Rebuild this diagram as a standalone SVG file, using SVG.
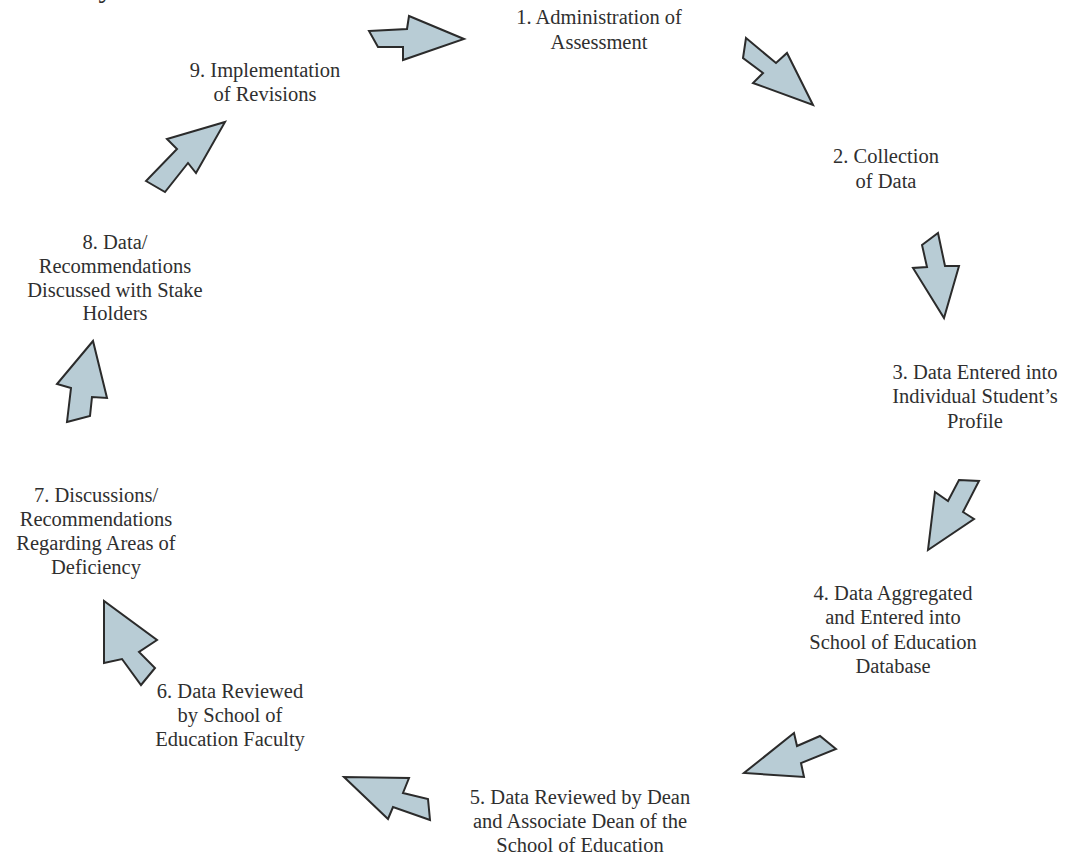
<svg xmlns="http://www.w3.org/2000/svg" width="1069" height="861" viewBox="0 0 1069 861">
<style>
.bg{fill:#ffffff}
.lbl{font-family:"Liberation Serif","Times New Roman",serif;font-size:20.5px;fill:#2f2f2f;text-anchor:middle}
.arr{fill:#b8ccd5;stroke:#2b2b2b;stroke-width:2;stroke-linejoin:miter}
</style>
<rect class="bg" x="0" y="0" width="1069" height="861"/>
<text class="lbl" x="106" y="-3" style="font-size:30px">y</text>
<g id="node1"><text class="lbl" x="599" y="24">1. Administration of</text><text class="lbl" x="599" y="49">Assessment</text></g>
<g id="node2"><text class="lbl" x="886" y="163">2. Collection</text><text class="lbl" x="886" y="188">of Data</text></g>
<g id="node3"><text class="lbl" x="975" y="379">3. Data Entered into</text><text class="lbl" x="975" y="403">Individual Student’s</text><text class="lbl" x="975" y="428">Profile</text></g>
<g id="node4"><text class="lbl" x="893" y="600">4. Data Aggregated</text><text class="lbl" x="893" y="624">and Entered into</text><text class="lbl" x="893" y="649">School of Education</text><text class="lbl" x="893" y="673">Database</text></g>
<g id="node5"><text class="lbl" x="580" y="804">5. Data Reviewed by Dean</text><text class="lbl" x="580" y="828">and Associate Dean of the</text><text class="lbl" x="580" y="852">School of Education</text></g>
<g id="node6"><text class="lbl" x="230" y="698">6. Data Reviewed</text><text class="lbl" x="230" y="722">by School of</text><text class="lbl" x="230" y="746">Education Faculty</text></g>
<g id="node7"><text class="lbl" x="96" y="502">7. Discussions/</text><text class="lbl" x="96" y="526">Recommendations</text><text class="lbl" x="96" y="550">Regarding Areas of</text><text class="lbl" x="96" y="574">Deficiency</text></g>
<g id="node8"><text class="lbl" x="115" y="249">8. Data/</text><text class="lbl" x="115" y="273">Recommendations</text><text class="lbl" x="115" y="297">Discussed with Stake</text><text class="lbl" x="115" y="320">Holders</text></g>
<g id="node9"><text class="lbl" x="265" y="77">9. Implementation</text><text class="lbl" x="265" y="101">of Revisions</text></g>
<g id="connectors">
<polygon class="arr" points="369,31 407,29 409,16 464,39 403,60 403,47 378,47"/>
<polygon class="arr" points="746,38 776,63 787,53 813,105 753,83 763,73 743,58"/>
<polygon class="arr" points="922,245 938,233 945,266 959,266 944,318 913,268 927,267"/>
<polygon class="arr" points="959,480 979,481 963,512 974,519 928,550 935,492 948,501"/>
<polygon class="arr" points="836,749 820,736 797,746 794,733 744,773 804,777 801,763"/>
<polygon class="arr" points="430,820 428,799 403,793 409,778 344,777 388,819 393,807"/>
<polygon class="arr" points="141,685 155,668 139,652 157,640 104,601 104,663 122,659"/>
<polygon class="arr" points="67,422 90,416 92,397 107,398 93,341 57,384 71,388"/>
<polygon class="arr" points="146,181 165,192 188,163 196,173 225,122 167,139 177,149"/>
</g>
</svg>
